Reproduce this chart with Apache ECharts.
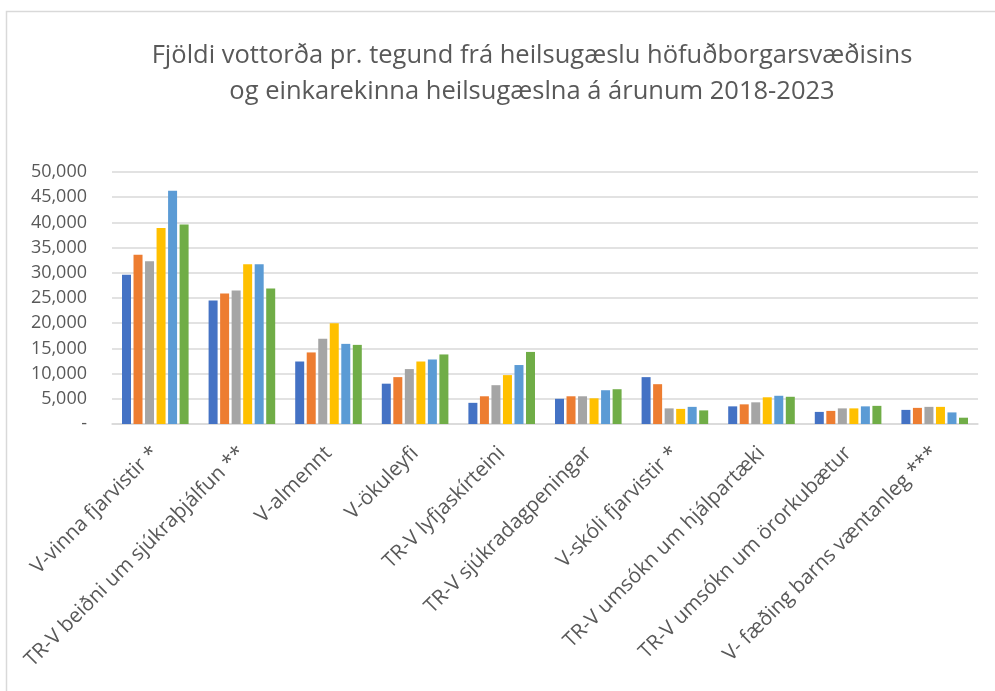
<!DOCTYPE html>
<html>
<head>
<meta charset="utf-8">
<script src="https://cdn.jsdelivr.net/npm/echarts@6/dist/echarts.min.js"></script>
<style>
  html, body { margin: 0; padding: 0; background: #fff; }
  #chart { width: 995px; height: 691px; }
</style>
</head>
<body>
<div id="chart"></div>
<script>
// categories (vottorð types)
const categories = [
  'V-vinna fjarvistir *',
  'TR-V beiðni um sjúkraþjálfun **',
  'V-almennt',
  'V-ökuleyfi',
  'TR-V lyfjaskírteini',
  'TR-V sjúkradagpeningar',
  'V-skóli fjarvistir *',
  'TR-V umsókn um hjálpartæki',
  'TR-V umsókn um örorkubætur',
  'V- fæðing barns væntanleg ***'
]

const years = ['2018', '2019', '2020', '2021', '2022', '2023']
const colors = ['#4472C4', '#ED7D31', '#A5A5A5', '#FFC000', '#5B9BD5', '#70AD47']

// values, one array per year
const v2018 = [29600, 24500, 12400, 8000, 4200, 5000, 9300, 3500, 2400, 2800]
const v2019 = [33600, 25900, 14200, 9300, 5500, 5500, 7900, 3900, 2600, 3200]
const v2020 = [32300, 26500, 16900, 10900, 7700, 5500, 3100, 4300, 3100, 3400]
const v2021 = [38900, 31700, 20000, 12400, 9700, 5100, 3000, 5300, 3100, 3400]
const v2022 = [46300, 31700, 15900, 12800, 11700, 6700, 3400, 5600, 3500, 2300]
const v2023 = [39600, 26900, 15700, 13800, 14300, 6900, 2700, 5400, 3600, 1250]
const seriesValues = [v2018, v2019, v2020, v2021, v2022, v2023]

const titleText = 'Fjöldi vottorða pr. tegund frá heilsugæslu höfuðborgarsvæðisins\nog einkarekinna heilsugæslna á árunum 2018-2023'

const FONT = '"Open Sans", "Noto Sans", sans-serif'
const TEXT = '#595959'

const chart = echarts.init(document.getElementById('chart'))

const option = {
  animation: false,
  backgroundColor: '#fff',
  graphic: [
    {
      // chart area border (runs off the right/bottom edge like the source)
      type: 'rect',
      z: -10,
      shape: { x: 6.5, y: 11.5, width: 1100, height: 800 },
      style: { fill: 'none', stroke: '#D9D9D9', lineWidth: 1.5 }
    },
    {
      type: 'text',
      x: 532,
      y: 38,
      style: {
        text: titleText,
        fill: TEXT,
        font: '25.5px ' + FONT,
        lineHeight: 36,
        textAlign: 'center',
        textVerticalAlign: 'top'
      }
    }
  ],
  grid: { left: 112, right: 17, top: 172, bottom: 267 },
  xAxis: {
    type: 'category',
    data: categories,
    axisLine: { lineStyle: { color: '#D9D9D9', width: 1.5 } },
    axisTick: { show: false },
    axisLabel: {
      rotate: 45,
      interval: 0,
      margin: 26,
      color: TEXT,
      fontFamily: FONT,
      fontSize: 20.5
    }
  },
  yAxis: {
    type: 'value',
    min: 0,
    max: 50000,
    interval: 5000,
    axisLine: { show: false },
    axisTick: { show: false },
    splitLine: { lineStyle: { color: '#D9D9D9', width: 1.5 } },
    axisLabel: {
      margin: 25,
      color: TEXT,
      fontFamily: FONT,
      fontSize: 18,
      formatter: v => v === 0 ? '-' : v.toLocaleString('en-US')
    }
  },
  series: years.map((y, i) => ({
    name: y,
    type: 'bar',
    data: seriesValues[i],
    barWidth: 9,
    barGap: '28%',
    itemStyle: { color: colors[i] }
  }))
}

chart.setOption(option)
</script>
</body>
</html>
